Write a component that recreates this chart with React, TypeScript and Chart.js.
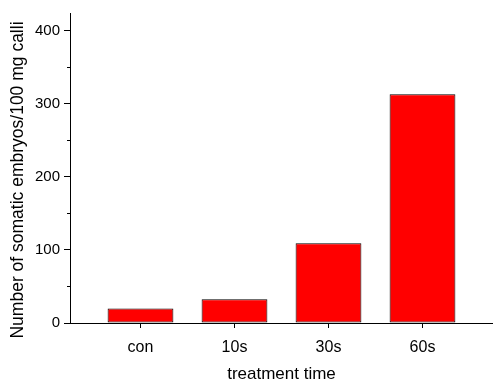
import React, { useEffect, useRef } from "react";
import { Chart, registerables } from "chart.js";

Chart.register(...registerables);

const categories = ["con", "10s", "30s", "60s"];
const positions = [1, 2, 3, 4];
const values = [20, 32.5, 109, 313];
const yMajorTicks = [0, 100, 200, 300, 400];
const yMinorTicks = [50, 150, 250, 350];
const yTitle = "Number of somatic embryos/100 mg calli";

const FONT = "'Liberation Sans', Arial, sans-serif";

const minorTickPlugin = {
  id: "minorTicks",
  afterDraw(chart: any) {
    const y = chart.scales.y;
    const ctx = chart.ctx;
    ctx.save();
    ctx.strokeStyle = "#000";
    ctx.lineWidth = 1;
    for (const v of yMinorTicks) {
      const py = Math.round(y.getPixelForValue(v)) + 0.5;
      ctx.beginPath();
      ctx.moveTo(y.right - 3, py);
      ctx.lineTo(y.right, py);
      ctx.stroke();
    }
    // y-axis title, rotated
    const ca = chart.chartArea;
    ctx.translate(18, (ca.top + ca.bottom) / 2 + 12);
    ctx.rotate(-Math.PI / 2);
    ctx.fillStyle = "#000";
    ctx.font = `17.5px ${FONT}`;
    ctx.textAlign = "center";
    ctx.textBaseline = "middle";
    ctx.fillText(yTitle, 0, 0);
    ctx.restore();
  },
};

export default function App() {
  const ref = useRef<HTMLCanvasElement | null>(null);

  useEffect(() => {
    if (!ref.current) return;
    const chart = new Chart(ref.current, {
      type: "bar",
      data: {
        datasets: [
          {
            data: positions.map((p, i) => ({ x: p, y: values[i] })),
            backgroundColor: "#ff0000",
            borderColor: "#000000",
            borderWidth: 1,
            borderSkipped: false,
            barPercentage: 0.7,
            categoryPercentage: 1,
          },
        ],
      },
      options: {
        animation: false,
        responsive: true,
        maintainAspectRatio: false,
        layout: { padding: { top: 12, right: 0, left: 0, bottom: 0 } },
        plugins: {
          legend: { display: false },
          tooltip: { enabled: false },
        },
        scales: {
          x: {
            type: "linear",
            min: 0.25,
            max: 4.75,
            offset: false,
            afterBuildTicks: (s: any) => {
              s.ticks = positions.map((v) => ({ value: v }));
            },
            afterFit: (s: any) => {
              s.height = 62;
            },
            ticks: {
              callback: (v: any) => {
                const i = positions.indexOf(Number(v));
                return i >= 0 ? categories[i] : "";
              },
              color: "#000",
              font: { family: FONT, size: 16 },
              padding: 10,
              maxRotation: 0,
              autoSkip: false,
            },
            grid: {
              offset: false,
              drawOnChartArea: false,
              drawTicks: true,
              tickLength: 5,
              tickColor: "#000",
            },
            border: { display: true, color: "#000", width: 1 },
            title: {
              display: true,
              text: "treatment time",
              color: "#000",
              font: { family: FONT, size: 17 },
              padding: { top: 8, bottom: 0 },
            },
          },
          y: {
            type: "linear",
            min: 0,
            max: 424,
            afterBuildTicks: (s: any) => {
              s.ticks = yMajorTicks.map((v) => ({ value: v }));
            },
            afterFit: (s: any) => {
              s.width = 70;
            },
            ticks: {
              color: "#000",
              font: { family: FONT, size: 15 },
              padding: 4,
            },
            grid: {
              drawOnChartArea: false,
              drawTicks: true,
              tickLength: 6,
              tickColor: "#000",
            },
            border: { display: true, color: "#000", width: 1 },
            title: { display: false },
          },
        },
      },
      plugins: [minorTickPlugin],
    } as any);
    return () => chart.destroy();
  }, []);

  return (
    <div style={{ position: "fixed", left: 0, top: 0, width: 493, height: 385, background: "#fff" }}>
      <canvas ref={ref} />
    </div>
  );
}
